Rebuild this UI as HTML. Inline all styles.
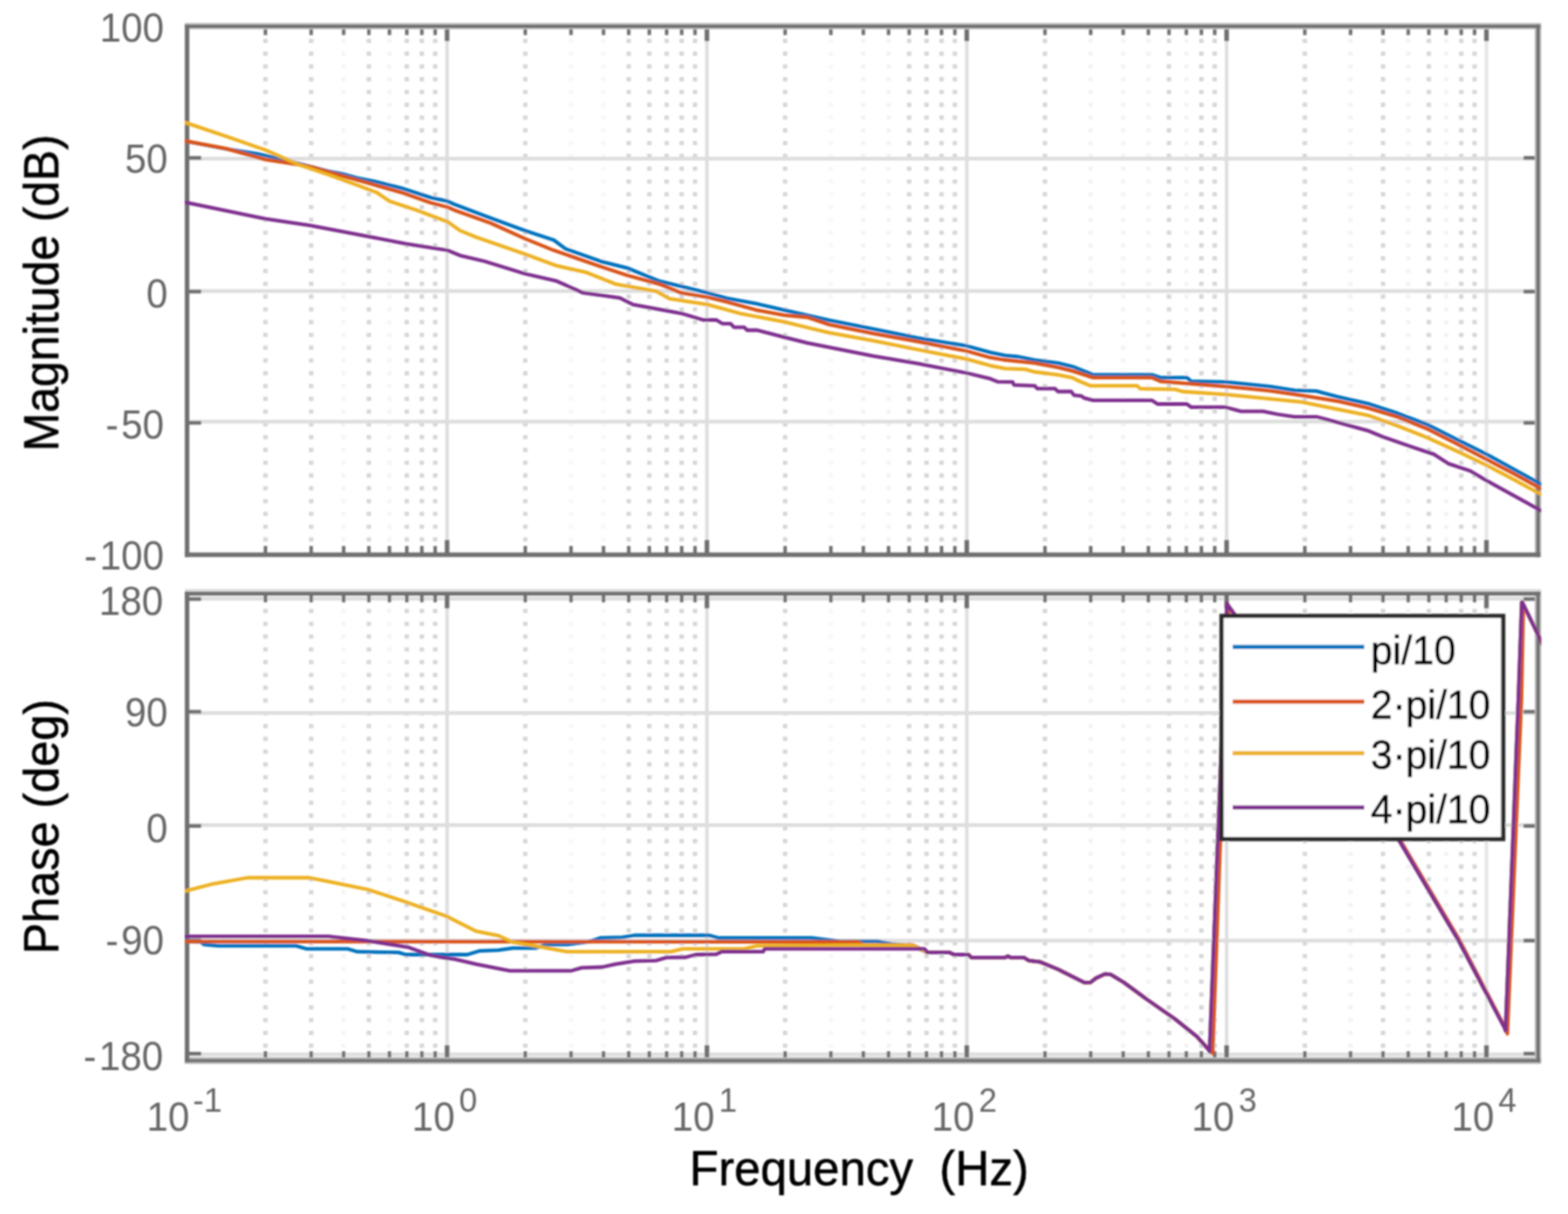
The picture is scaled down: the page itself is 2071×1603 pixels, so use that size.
<!DOCTYPE html>
<html lang="en"><head><meta charset="utf-8"><title>Bode plot</title>
<style>html,body{margin:0;padding:0;background:#fff;}body{width:2071px;height:1603px;overflow:hidden;}svg{display:block;}text{font-family:"Liberation Sans",sans-serif;}.tk{font-size:53px;fill:#666666;}.sup{font-size:45px;fill:#666666;}.ax{font-size:64px;fill:#000;stroke:#000;stroke-width:0.7px;}.ay{font-size:65px;fill:#000;stroke:#000;stroke-width:0.7px;}.lg{font-size:53px;fill:#000;stroke:#000;stroke-width:0.7px;}</style></head><body>
<svg width="2071" height="1603" viewBox="0 0 2071 1603" role="img" aria-label="Bode plot: magnitude and phase versus frequency">
<rect width="2071" height="1603" fill="#ffffff"/>
<defs>
<clipPath id="c0"><rect x="244.1" y="30" width="1791.4" height="706"/></clipPath>
<clipPath id="c1"><rect x="244.1" y="780" width="1791.4" height="624"/></clipPath>
<filter id="soft" x="0" y="0" width="2071" height="1603" filterUnits="userSpaceOnUse"><feGaussianBlur stdDeviation="1.05"/></filter>
</defs>
<g filter="url(#soft)">
<g id="panel0">
<line x1="350.6" y1="51.2" x2="350.6" y2="724.4" stroke="#d6d6d6" stroke-opacity="1" stroke-width="5.8" stroke-dasharray="5.6 11.28"/>
<line x1="411.0" y1="51.2" x2="411.0" y2="724.4" stroke="#d6d6d6" stroke-opacity="1" stroke-width="5.8" stroke-dasharray="5.6 11.28"/>
<line x1="453.9" y1="51.2" x2="453.9" y2="724.4" stroke="#d6d6d6" stroke-opacity="0.25" stroke-width="5.8" stroke-dasharray="5.6 11.28"/>
<line x1="487.2" y1="51.2" x2="487.2" y2="724.4" stroke="#d6d6d6" stroke-opacity="1" stroke-width="5.8" stroke-dasharray="5.6 11.28"/>
<line x1="514.4" y1="51.2" x2="514.4" y2="724.4" stroke="#d6d6d6" stroke-opacity="0.25" stroke-width="5.8" stroke-dasharray="5.6 11.28"/>
<line x1="537.3" y1="51.2" x2="537.3" y2="724.4" stroke="#d6d6d6" stroke-opacity="1" stroke-width="5.8" stroke-dasharray="5.6 11.28"/>
<line x1="557.2" y1="51.2" x2="557.2" y2="724.4" stroke="#d6d6d6" stroke-opacity="1" stroke-width="5.8" stroke-dasharray="5.6 11.28"/>
<line x1="574.8" y1="51.2" x2="574.8" y2="724.4" stroke="#d6d6d6" stroke-opacity="1" stroke-width="5.8" stroke-dasharray="5.6 11.28"/>
<line x1="693.8" y1="51.2" x2="693.8" y2="724.4" stroke="#d6d6d6" stroke-opacity="1" stroke-width="5.8" stroke-dasharray="5.6 11.28"/>
<line x1="754.2" y1="51.2" x2="754.2" y2="724.4" stroke="#d6d6d6" stroke-opacity="0.2" stroke-width="5.8" stroke-dasharray="5.6 11.28"/>
<line x1="797.1" y1="51.2" x2="797.1" y2="724.4" stroke="#d6d6d6" stroke-opacity="0.2" stroke-width="5.8" stroke-dasharray="5.6 11.28"/>
<line x1="830.4" y1="51.2" x2="830.4" y2="724.4" stroke="#d6d6d6" stroke-opacity="1" stroke-width="5.8" stroke-dasharray="5.6 11.28"/>
<line x1="857.6" y1="51.2" x2="857.6" y2="724.4" stroke="#d6d6d6" stroke-opacity="1" stroke-width="5.8" stroke-dasharray="5.6 11.28"/>
<line x1="880.5" y1="51.2" x2="880.5" y2="724.4" stroke="#d6d6d6" stroke-opacity="1" stroke-width="5.8" stroke-dasharray="5.6 11.28"/>
<line x1="900.4" y1="51.2" x2="900.4" y2="724.4" stroke="#d6d6d6" stroke-opacity="1" stroke-width="5.8" stroke-dasharray="5.6 11.28"/>
<line x1="918.0" y1="51.2" x2="918.0" y2="724.4" stroke="#d6d6d6" stroke-opacity="1" stroke-width="5.8" stroke-dasharray="5.6 11.28"/>
<line x1="1037.0" y1="51.2" x2="1037.0" y2="724.4" stroke="#d6d6d6" stroke-opacity="1" stroke-width="5.8" stroke-dasharray="5.6 11.28"/>
<line x1="1097.4" y1="51.2" x2="1097.4" y2="724.4" stroke="#d6d6d6" stroke-opacity="0.2" stroke-width="5.8" stroke-dasharray="5.6 11.28"/>
<line x1="1140.3" y1="51.2" x2="1140.3" y2="724.4" stroke="#d6d6d6" stroke-opacity="0.3" stroke-width="5.8" stroke-dasharray="5.6 11.28"/>
<line x1="1173.6" y1="51.2" x2="1173.6" y2="724.4" stroke="#d6d6d6" stroke-opacity="0.3" stroke-width="5.8" stroke-dasharray="5.6 11.28"/>
<line x1="1200.8" y1="51.2" x2="1200.8" y2="724.4" stroke="#d6d6d6" stroke-opacity="1" stroke-width="5.8" stroke-dasharray="5.6 11.28"/>
<line x1="1223.7" y1="51.2" x2="1223.7" y2="724.4" stroke="#d6d6d6" stroke-opacity="1" stroke-width="5.8" stroke-dasharray="5.6 11.28"/>
<line x1="1243.6" y1="51.2" x2="1243.6" y2="724.4" stroke="#d6d6d6" stroke-opacity="1" stroke-width="5.8" stroke-dasharray="5.6 11.28"/>
<line x1="1261.2" y1="51.2" x2="1261.2" y2="724.4" stroke="#d6d6d6" stroke-opacity="1" stroke-width="5.8" stroke-dasharray="5.6 11.28"/>
<line x1="1380.2" y1="51.2" x2="1380.2" y2="724.4" stroke="#d6d6d6" stroke-opacity="1" stroke-width="5.8" stroke-dasharray="5.6 11.28"/>
<line x1="1440.6" y1="51.2" x2="1440.6" y2="724.4" stroke="#d6d6d6" stroke-opacity="0.3" stroke-width="5.8" stroke-dasharray="5.6 11.28"/>
<line x1="1483.5" y1="51.2" x2="1483.5" y2="724.4" stroke="#d6d6d6" stroke-opacity="0.3" stroke-width="5.8" stroke-dasharray="5.6 11.28"/>
<line x1="1516.8" y1="51.2" x2="1516.8" y2="724.4" stroke="#d6d6d6" stroke-opacity="0.3" stroke-width="5.8" stroke-dasharray="5.6 11.28"/>
<line x1="1544.0" y1="51.2" x2="1544.0" y2="724.4" stroke="#d6d6d6" stroke-opacity="1" stroke-width="5.8" stroke-dasharray="5.6 11.28"/>
<line x1="1566.9" y1="51.2" x2="1566.9" y2="724.4" stroke="#d6d6d6" stroke-opacity="0.3" stroke-width="5.8" stroke-dasharray="5.6 11.28"/>
<line x1="1586.8" y1="51.2" x2="1586.8" y2="724.4" stroke="#d6d6d6" stroke-opacity="1" stroke-width="5.8" stroke-dasharray="5.6 11.28"/>
<line x1="1604.4" y1="51.2" x2="1604.4" y2="724.4" stroke="#d6d6d6" stroke-opacity="1" stroke-width="5.8" stroke-dasharray="5.6 11.28"/>
<line x1="1723.4" y1="51.2" x2="1723.4" y2="724.4" stroke="#d6d6d6" stroke-opacity="1" stroke-width="5.8" stroke-dasharray="5.6 11.28"/>
<line x1="1783.8" y1="51.2" x2="1783.8" y2="724.4" stroke="#d6d6d6" stroke-opacity="0.3" stroke-width="5.8" stroke-dasharray="5.6 11.28"/>
<line x1="1826.7" y1="51.2" x2="1826.7" y2="724.4" stroke="#d6d6d6" stroke-opacity="1" stroke-width="5.8" stroke-dasharray="5.6 11.28"/>
<line x1="1860.0" y1="51.2" x2="1860.0" y2="724.4" stroke="#d6d6d6" stroke-opacity="0.3" stroke-width="5.8" stroke-dasharray="5.6 11.28"/>
<line x1="1887.2" y1="51.2" x2="1887.2" y2="724.4" stroke="#d6d6d6" stroke-opacity="1" stroke-width="5.8" stroke-dasharray="5.6 11.28"/>
<line x1="1910.1" y1="51.2" x2="1910.1" y2="724.4" stroke="#d6d6d6" stroke-opacity="0.3" stroke-width="5.8" stroke-dasharray="5.6 11.28"/>
<line x1="1930.0" y1="51.2" x2="1930.0" y2="724.4" stroke="#d6d6d6" stroke-opacity="1" stroke-width="5.8" stroke-dasharray="5.6 11.28"/>
<line x1="1947.6" y1="51.2" x2="1947.6" y2="724.4" stroke="#d6d6d6" stroke-opacity="1" stroke-width="5.8" stroke-dasharray="5.6 11.28"/>
<line x1="590.5" y1="34.8" x2="590.5" y2="732.4" stroke="#dedede" stroke-width="4.6"/>
<line x1="933.7" y1="34.8" x2="933.7" y2="732.4" stroke="#dedede" stroke-width="4.6"/>
<line x1="1276.9" y1="34.8" x2="1276.9" y2="732.4" stroke="#dedede" stroke-width="4.6"/>
<line x1="1620.1" y1="34.8" x2="1620.1" y2="732.4" stroke="#dedede" stroke-width="4.6"/>
<line x1="1963.3" y1="34.8" x2="1963.3" y2="732.4" stroke="#e6e6e6" stroke-width="4.6"/>
<line x1="247.3" y1="209.6" x2="2031.5" y2="209.6" stroke="#dedede" stroke-width="5"/>
<line x1="247.3" y1="384.3" x2="2031.5" y2="384.3" stroke="#dedede" stroke-width="5"/>
<line x1="247.3" y1="556.8" x2="2031.5" y2="556.8" stroke="#dedede" stroke-width="5"/>
<line x1="350.6" y1="34.8" x2="350.6" y2="46.3" stroke="#6e6e6e" stroke-width="4.6"/>
<line x1="350.6" y1="732.4" x2="350.6" y2="720.9" stroke="#6e6e6e" stroke-width="4.6"/>
<line x1="411.0" y1="34.8" x2="411.0" y2="46.3" stroke="#6e6e6e" stroke-width="4.6"/>
<line x1="411.0" y1="732.4" x2="411.0" y2="720.9" stroke="#6e6e6e" stroke-width="4.6"/>
<line x1="453.9" y1="34.8" x2="453.9" y2="46.3" stroke="#6e6e6e" stroke-width="4.6"/>
<line x1="453.9" y1="732.4" x2="453.9" y2="720.9" stroke="#6e6e6e" stroke-width="4.6"/>
<line x1="487.2" y1="34.8" x2="487.2" y2="46.3" stroke="#6e6e6e" stroke-width="4.6"/>
<line x1="487.2" y1="732.4" x2="487.2" y2="720.9" stroke="#6e6e6e" stroke-width="4.6"/>
<line x1="514.4" y1="34.8" x2="514.4" y2="46.3" stroke="#6e6e6e" stroke-width="4.6"/>
<line x1="514.4" y1="732.4" x2="514.4" y2="720.9" stroke="#6e6e6e" stroke-width="4.6"/>
<line x1="537.3" y1="34.8" x2="537.3" y2="46.3" stroke="#6e6e6e" stroke-width="4.6"/>
<line x1="537.3" y1="732.4" x2="537.3" y2="720.9" stroke="#6e6e6e" stroke-width="4.6"/>
<line x1="557.2" y1="34.8" x2="557.2" y2="46.3" stroke="#6e6e6e" stroke-width="4.6"/>
<line x1="557.2" y1="732.4" x2="557.2" y2="720.9" stroke="#6e6e6e" stroke-width="4.6"/>
<line x1="574.8" y1="34.8" x2="574.8" y2="46.3" stroke="#6e6e6e" stroke-width="4.6"/>
<line x1="574.8" y1="732.4" x2="574.8" y2="720.9" stroke="#6e6e6e" stroke-width="4.6"/>
<line x1="590.5" y1="34.8" x2="590.5" y2="54.3" stroke="#6e6e6e" stroke-width="6"/>
<line x1="590.5" y1="732.4" x2="590.5" y2="712.9" stroke="#6e6e6e" stroke-width="6"/>
<line x1="693.8" y1="34.8" x2="693.8" y2="46.3" stroke="#6e6e6e" stroke-width="4.6"/>
<line x1="693.8" y1="732.4" x2="693.8" y2="720.9" stroke="#6e6e6e" stroke-width="4.6"/>
<line x1="754.2" y1="34.8" x2="754.2" y2="46.3" stroke="#6e6e6e" stroke-width="4.6"/>
<line x1="754.2" y1="732.4" x2="754.2" y2="720.9" stroke="#6e6e6e" stroke-width="4.6"/>
<line x1="797.1" y1="34.8" x2="797.1" y2="46.3" stroke="#6e6e6e" stroke-width="4.6"/>
<line x1="797.1" y1="732.4" x2="797.1" y2="720.9" stroke="#6e6e6e" stroke-width="4.6"/>
<line x1="830.4" y1="34.8" x2="830.4" y2="46.3" stroke="#6e6e6e" stroke-width="4.6"/>
<line x1="830.4" y1="732.4" x2="830.4" y2="720.9" stroke="#6e6e6e" stroke-width="4.6"/>
<line x1="857.6" y1="34.8" x2="857.6" y2="46.3" stroke="#6e6e6e" stroke-width="4.6"/>
<line x1="857.6" y1="732.4" x2="857.6" y2="720.9" stroke="#6e6e6e" stroke-width="4.6"/>
<line x1="880.5" y1="34.8" x2="880.5" y2="46.3" stroke="#6e6e6e" stroke-width="4.6"/>
<line x1="880.5" y1="732.4" x2="880.5" y2="720.9" stroke="#6e6e6e" stroke-width="4.6"/>
<line x1="900.4" y1="34.8" x2="900.4" y2="46.3" stroke="#6e6e6e" stroke-width="4.6"/>
<line x1="900.4" y1="732.4" x2="900.4" y2="720.9" stroke="#6e6e6e" stroke-width="4.6"/>
<line x1="918.0" y1="34.8" x2="918.0" y2="46.3" stroke="#6e6e6e" stroke-width="4.6"/>
<line x1="918.0" y1="732.4" x2="918.0" y2="720.9" stroke="#6e6e6e" stroke-width="4.6"/>
<line x1="933.7" y1="34.8" x2="933.7" y2="54.3" stroke="#6e6e6e" stroke-width="6"/>
<line x1="933.7" y1="732.4" x2="933.7" y2="712.9" stroke="#6e6e6e" stroke-width="6"/>
<line x1="1037.0" y1="34.8" x2="1037.0" y2="46.3" stroke="#6e6e6e" stroke-width="4.6"/>
<line x1="1037.0" y1="732.4" x2="1037.0" y2="720.9" stroke="#6e6e6e" stroke-width="4.6"/>
<line x1="1097.4" y1="34.8" x2="1097.4" y2="46.3" stroke="#6e6e6e" stroke-width="4.6"/>
<line x1="1097.4" y1="732.4" x2="1097.4" y2="720.9" stroke="#6e6e6e" stroke-width="4.6"/>
<line x1="1140.3" y1="34.8" x2="1140.3" y2="46.3" stroke="#6e6e6e" stroke-width="4.6"/>
<line x1="1140.3" y1="732.4" x2="1140.3" y2="720.9" stroke="#6e6e6e" stroke-width="4.6"/>
<line x1="1173.6" y1="34.8" x2="1173.6" y2="46.3" stroke="#6e6e6e" stroke-width="4.6"/>
<line x1="1173.6" y1="732.4" x2="1173.6" y2="720.9" stroke="#6e6e6e" stroke-width="4.6"/>
<line x1="1200.8" y1="34.8" x2="1200.8" y2="46.3" stroke="#6e6e6e" stroke-width="4.6"/>
<line x1="1200.8" y1="732.4" x2="1200.8" y2="720.9" stroke="#6e6e6e" stroke-width="4.6"/>
<line x1="1223.7" y1="34.8" x2="1223.7" y2="46.3" stroke="#6e6e6e" stroke-width="4.6"/>
<line x1="1223.7" y1="732.4" x2="1223.7" y2="720.9" stroke="#6e6e6e" stroke-width="4.6"/>
<line x1="1243.6" y1="34.8" x2="1243.6" y2="46.3" stroke="#6e6e6e" stroke-width="4.6"/>
<line x1="1243.6" y1="732.4" x2="1243.6" y2="720.9" stroke="#6e6e6e" stroke-width="4.6"/>
<line x1="1261.2" y1="34.8" x2="1261.2" y2="46.3" stroke="#6e6e6e" stroke-width="4.6"/>
<line x1="1261.2" y1="732.4" x2="1261.2" y2="720.9" stroke="#6e6e6e" stroke-width="4.6"/>
<line x1="1276.9" y1="34.8" x2="1276.9" y2="54.3" stroke="#6e6e6e" stroke-width="6"/>
<line x1="1276.9" y1="732.4" x2="1276.9" y2="712.9" stroke="#6e6e6e" stroke-width="6"/>
<line x1="1380.2" y1="34.8" x2="1380.2" y2="46.3" stroke="#6e6e6e" stroke-width="4.6"/>
<line x1="1380.2" y1="732.4" x2="1380.2" y2="720.9" stroke="#6e6e6e" stroke-width="4.6"/>
<line x1="1440.6" y1="34.8" x2="1440.6" y2="46.3" stroke="#6e6e6e" stroke-width="4.6"/>
<line x1="1440.6" y1="732.4" x2="1440.6" y2="720.9" stroke="#6e6e6e" stroke-width="4.6"/>
<line x1="1483.5" y1="34.8" x2="1483.5" y2="46.3" stroke="#6e6e6e" stroke-width="4.6"/>
<line x1="1483.5" y1="732.4" x2="1483.5" y2="720.9" stroke="#6e6e6e" stroke-width="4.6"/>
<line x1="1516.8" y1="34.8" x2="1516.8" y2="46.3" stroke="#6e6e6e" stroke-width="4.6"/>
<line x1="1516.8" y1="732.4" x2="1516.8" y2="720.9" stroke="#6e6e6e" stroke-width="4.6"/>
<line x1="1544.0" y1="34.8" x2="1544.0" y2="46.3" stroke="#6e6e6e" stroke-width="4.6"/>
<line x1="1544.0" y1="732.4" x2="1544.0" y2="720.9" stroke="#6e6e6e" stroke-width="4.6"/>
<line x1="1566.9" y1="34.8" x2="1566.9" y2="46.3" stroke="#6e6e6e" stroke-width="4.6"/>
<line x1="1566.9" y1="732.4" x2="1566.9" y2="720.9" stroke="#6e6e6e" stroke-width="4.6"/>
<line x1="1586.8" y1="34.8" x2="1586.8" y2="46.3" stroke="#6e6e6e" stroke-width="4.6"/>
<line x1="1586.8" y1="732.4" x2="1586.8" y2="720.9" stroke="#6e6e6e" stroke-width="4.6"/>
<line x1="1604.4" y1="34.8" x2="1604.4" y2="46.3" stroke="#6e6e6e" stroke-width="4.6"/>
<line x1="1604.4" y1="732.4" x2="1604.4" y2="720.9" stroke="#6e6e6e" stroke-width="4.6"/>
<line x1="1620.1" y1="34.8" x2="1620.1" y2="54.3" stroke="#6e6e6e" stroke-width="6"/>
<line x1="1620.1" y1="732.4" x2="1620.1" y2="712.9" stroke="#6e6e6e" stroke-width="6"/>
<line x1="1723.4" y1="34.8" x2="1723.4" y2="46.3" stroke="#6e6e6e" stroke-width="4.6"/>
<line x1="1723.4" y1="732.4" x2="1723.4" y2="720.9" stroke="#6e6e6e" stroke-width="4.6"/>
<line x1="1783.8" y1="34.8" x2="1783.8" y2="46.3" stroke="#6e6e6e" stroke-width="4.6"/>
<line x1="1783.8" y1="732.4" x2="1783.8" y2="720.9" stroke="#6e6e6e" stroke-width="4.6"/>
<line x1="1826.7" y1="34.8" x2="1826.7" y2="46.3" stroke="#6e6e6e" stroke-width="4.6"/>
<line x1="1826.7" y1="732.4" x2="1826.7" y2="720.9" stroke="#6e6e6e" stroke-width="4.6"/>
<line x1="1860.0" y1="34.8" x2="1860.0" y2="46.3" stroke="#6e6e6e" stroke-width="4.6"/>
<line x1="1860.0" y1="732.4" x2="1860.0" y2="720.9" stroke="#6e6e6e" stroke-width="4.6"/>
<line x1="1887.2" y1="34.8" x2="1887.2" y2="46.3" stroke="#6e6e6e" stroke-width="4.6"/>
<line x1="1887.2" y1="732.4" x2="1887.2" y2="720.9" stroke="#6e6e6e" stroke-width="4.6"/>
<line x1="1910.1" y1="34.8" x2="1910.1" y2="46.3" stroke="#6e6e6e" stroke-width="4.6"/>
<line x1="1910.1" y1="732.4" x2="1910.1" y2="720.9" stroke="#6e6e6e" stroke-width="4.6"/>
<line x1="1930.0" y1="34.8" x2="1930.0" y2="46.3" stroke="#6e6e6e" stroke-width="4.6"/>
<line x1="1930.0" y1="732.4" x2="1930.0" y2="720.9" stroke="#6e6e6e" stroke-width="4.6"/>
<line x1="1947.6" y1="34.8" x2="1947.6" y2="46.3" stroke="#6e6e6e" stroke-width="4.6"/>
<line x1="1947.6" y1="732.4" x2="1947.6" y2="720.9" stroke="#6e6e6e" stroke-width="4.6"/>
<line x1="1963.3" y1="34.8" x2="1963.3" y2="54.3" stroke="#6e6e6e" stroke-width="6"/>
<line x1="1963.3" y1="732.4" x2="1963.3" y2="712.9" stroke="#6e6e6e" stroke-width="6"/>
<line x1="247.3" y1="208.5" x2="265.7" y2="208.5" stroke="#6e6e6e" stroke-width="4.8"/>
<line x1="2031.5" y1="208.5" x2="2012.3" y2="208.5" stroke="#6e6e6e" stroke-width="4.8"/>
<line x1="247.3" y1="385.0" x2="265.7" y2="385.0" stroke="#6e6e6e" stroke-width="4.8"/>
<line x1="2031.5" y1="385.0" x2="2012.3" y2="385.0" stroke="#6e6e6e" stroke-width="4.8"/>
<line x1="247.3" y1="558.3" x2="265.7" y2="558.3" stroke="#6e6e6e" stroke-width="4.8"/>
<line x1="2031.5" y1="558.3" x2="2012.3" y2="558.3" stroke="#6e6e6e" stroke-width="4.8"/>
<rect x="244.1" y="30.2" width="1791.4" height="8.6" fill="#c4c4c4"/>
<rect x="2027.1" y="32.6" width="8.4" height="702.8" fill="#bcbcbc"/>
<line x1="244.1" y1="34.8" x2="2034.5" y2="34.8" stroke="#6f6f6f" stroke-width="4.4"/>
<line x1="244.1" y1="732.4" x2="2034.5" y2="732.4" stroke="#6f6f6f" stroke-width="6.0"/>
<line x1="247.1" y1="32.6" x2="247.1" y2="735.4" stroke="#6f6f6f" stroke-width="6"/>
<line x1="2031.5" y1="32.6" x2="2031.5" y2="735.4" stroke="#6f6f6f" stroke-width="4.4"/>
<g clip-path="url(#c0)">
<polyline points="240.0,185.3 298.0,196.5 340.0,203.0 360.0,207.5 394.7,216.0 433.4,226.0 452.0,229.5 472.0,235.0 497.0,240.0 530.0,248.3 568.8,260.9 591.0,265.7 600.0,269.7 648.4,288.0 693.4,304.5 731.5,317.0 747.0,328.6 793.4,345.1 828.2,353.8 870.8,371.2 934.6,386.7 960.0,393.8 1000.0,401.2 1035.4,409.3 1095.4,422.8 1153.4,434.4 1211.4,446.1 1276.6,456.7 1308.2,465.4 1327.5,469.3 1345.0,471.0 1366.4,475.4 1397.4,479.3 1416.7,484.1 1443.8,494.8 1521.2,494.8 1532.8,498.6 1567.6,498.6 1573.4,503.5 1618.8,504.4 1648.8,507.4 1677.8,510.3 1709.7,515.4 1738.7,516.4 1767.7,524.1 1806.4,532.8 1845.1,545.4 1883.8,559.9 1922.4,579.3 1963.1,599.6 1999.8,619.9 2040.0,641.8" fill="none" stroke="#0072bd" stroke-width="4.8" stroke-linejoin="round" stroke-linecap="butt"/>
<polyline points="240.0,185.3 298.0,196.1 350.3,210.6 394.7,217.4 414.0,221.2 452.8,232.5 485.6,241.5 530.1,254.1 568.8,267.7 591.0,273.5 600.0,277.4 648.4,294.8 693.4,315.1 731.5,330.6 793.4,351.9 828.2,363.5 870.8,375.1 899.8,386.7 934.6,392.5 960.0,398.7 998.7,409.3 1035.4,416.1 1066.4,419.0 1095.4,428.6 1153.4,440.3 1211.4,450.9 1276.6,463.5 1308.2,472.2 1325.0,475.0 1366.4,479.3 1397.4,485.1 1416.7,489.9 1443.8,498.6 1521.2,498.6 1532.8,503.5 1567.6,506.4 1618.8,510.3 1648.8,513.2 1677.8,516.1 1719.4,522.2 1767.7,529.9 1806.4,538.6 1845.1,550.3 1883.8,565.7 1922.4,585.1 1963.1,606.3 1999.8,625.7 2040.0,647.6" fill="none" stroke="#d95319" stroke-width="4.8" stroke-linejoin="round" stroke-linecap="butt"/>
<polyline points="240.0,160.3 298.0,179.7 350.3,198.0 394.7,217.4 433.4,230.5 472.0,244.4 497.3,254.1 514.7,265.7 549.5,277.3 591.0,292.8 607.5,304.4 629.0,313.2 640.0,317.0 693.4,335.4 735.4,350.9 774.0,359.6 812.8,375.1 866.9,384.7 884.3,394.4 934.6,402.1 977.2,413.8 998.7,418.0 1035.4,424.8 1066.4,432.5 1095.4,439.3 1153.4,449.9 1211.4,461.5 1276.6,474.1 1308.2,482.8 1327.5,486.7 1354.0,487.6 1366.0,491.0 1397.0,494.8 1416.0,498.6 1426.0,503.5 1440.0,509.3 1501.8,509.3 1506.0,513.2 1552.0,514.1 1562.0,517.0 1618.8,520.9 1659.5,524.8 1719.4,530.9 1767.7,540.6 1806.4,548.3 1845.1,561.9 1883.8,577.3 1922.4,594.7 1963.1,614.1 1999.8,633.4 2040.0,655.3" fill="none" stroke="#edb120" stroke-width="4.8" stroke-linejoin="round" stroke-linecap="butt"/>
<polyline points="240.0,266.1 350.3,288.9 409.2,297.6 485.6,312.1 536.0,321.8 591.0,330.5 607.5,337.3 640.0,345.0 693.4,361.5 735.4,371.2 770.2,386.7 818.6,393.4 836.0,402.1 899.8,413.8 928.8,422.5 946.2,422.5 954.0,427.3 965.0,427.3 969.4,432.1 983.0,432.1 986.8,436.0 1000.0,436.0 1035.4,445.1 1066.4,452.8 1095.4,458.6 1153.4,470.2 1211.4,479.9 1276.6,492.5 1308.2,500.2 1317.8,504.1 1337.4,504.4 1339.3,508.3 1366.4,509.3 1370.3,513.2 1393.5,513.2 1397.4,517.0 1414.8,517.0 1418.6,521.9 1428.3,522.9 1432.2,525.7 1443.8,528.6 1521.2,528.6 1528.9,533.5 1567.6,533.5 1573.4,537.7 1618.8,537.7 1639.0,543.1 1668.0,543.1 1687.5,547.0 1709.7,550.3 1738.7,550.3 1767.7,558.0 1806.4,568.6 1825.7,576.4 1864.4,589.9 1893.4,599.6 1912.8,612.1 1941.8,621.8 1963.1,634.4 1999.8,654.7 2040.0,676.6" fill="none" stroke="#7e2f8e" stroke-width="4.8" stroke-linejoin="round" stroke-linecap="butt"/>
</g>
<text class="tk" transform="translate(221.5,227.7) scale(0.96,1)" text-anchor="end">50</text>
<text class="tk" transform="translate(221.5,405.9) scale(0.96,1)" text-anchor="end">0</text>
<text class="tk" transform="translate(216.5,578.6) scale(0.96,1)" text-anchor="end" dx="0 3.6">-50</text>
<text class="tk" transform="translate(216.5,55.3) scale(0.96,1)" text-anchor="end">100</text>
<text class="tk" transform="translate(216.5,752.4) scale(0.96,1)" text-anchor="end" dx="0 3.6">-100</text>
</g>
<g id="panel1">
<line x1="350.6" y1="804.0" x2="350.6" y2="1391.6" stroke="#d6d6d6" stroke-opacity="1" stroke-width="5.8" stroke-dasharray="5.6 11.28"/>
<line x1="411.0" y1="804.0" x2="411.0" y2="1391.6" stroke="#d6d6d6" stroke-opacity="1" stroke-width="5.8" stroke-dasharray="5.6 11.28"/>
<line x1="453.9" y1="804.0" x2="453.9" y2="1391.6" stroke="#d6d6d6" stroke-opacity="0.25" stroke-width="5.8" stroke-dasharray="5.6 11.28"/>
<line x1="487.2" y1="804.0" x2="487.2" y2="1391.6" stroke="#d6d6d6" stroke-opacity="1" stroke-width="5.8" stroke-dasharray="5.6 11.28"/>
<line x1="514.4" y1="804.0" x2="514.4" y2="1391.6" stroke="#d6d6d6" stroke-opacity="0.25" stroke-width="5.8" stroke-dasharray="5.6 11.28"/>
<line x1="537.3" y1="804.0" x2="537.3" y2="1391.6" stroke="#d6d6d6" stroke-opacity="1" stroke-width="5.8" stroke-dasharray="5.6 11.28"/>
<line x1="557.2" y1="804.0" x2="557.2" y2="1391.6" stroke="#d6d6d6" stroke-opacity="1" stroke-width="5.8" stroke-dasharray="5.6 11.28"/>
<line x1="574.8" y1="804.0" x2="574.8" y2="1391.6" stroke="#d6d6d6" stroke-opacity="1" stroke-width="5.8" stroke-dasharray="5.6 11.28"/>
<line x1="693.8" y1="804.0" x2="693.8" y2="1391.6" stroke="#d6d6d6" stroke-opacity="1" stroke-width="5.8" stroke-dasharray="5.6 11.28"/>
<line x1="754.2" y1="804.0" x2="754.2" y2="1391.6" stroke="#d6d6d6" stroke-opacity="0.2" stroke-width="5.8" stroke-dasharray="5.6 11.28"/>
<line x1="797.1" y1="804.0" x2="797.1" y2="1391.6" stroke="#d6d6d6" stroke-opacity="0.2" stroke-width="5.8" stroke-dasharray="5.6 11.28"/>
<line x1="830.4" y1="804.0" x2="830.4" y2="1391.6" stroke="#d6d6d6" stroke-opacity="1" stroke-width="5.8" stroke-dasharray="5.6 11.28"/>
<line x1="857.6" y1="804.0" x2="857.6" y2="1391.6" stroke="#d6d6d6" stroke-opacity="1" stroke-width="5.8" stroke-dasharray="5.6 11.28"/>
<line x1="880.5" y1="804.0" x2="880.5" y2="1391.6" stroke="#d6d6d6" stroke-opacity="1" stroke-width="5.8" stroke-dasharray="5.6 11.28"/>
<line x1="900.4" y1="804.0" x2="900.4" y2="1391.6" stroke="#d6d6d6" stroke-opacity="1" stroke-width="5.8" stroke-dasharray="5.6 11.28"/>
<line x1="918.0" y1="804.0" x2="918.0" y2="1391.6" stroke="#d6d6d6" stroke-opacity="1" stroke-width="5.8" stroke-dasharray="5.6 11.28"/>
<line x1="1037.0" y1="804.0" x2="1037.0" y2="1391.6" stroke="#d6d6d6" stroke-opacity="1" stroke-width="5.8" stroke-dasharray="5.6 11.28"/>
<line x1="1097.4" y1="804.0" x2="1097.4" y2="1391.6" stroke="#d6d6d6" stroke-opacity="0.2" stroke-width="5.8" stroke-dasharray="5.6 11.28"/>
<line x1="1140.3" y1="804.0" x2="1140.3" y2="1391.6" stroke="#d6d6d6" stroke-opacity="0.3" stroke-width="5.8" stroke-dasharray="5.6 11.28"/>
<line x1="1173.6" y1="804.0" x2="1173.6" y2="1391.6" stroke="#d6d6d6" stroke-opacity="0.3" stroke-width="5.8" stroke-dasharray="5.6 11.28"/>
<line x1="1200.8" y1="804.0" x2="1200.8" y2="1391.6" stroke="#d6d6d6" stroke-opacity="1" stroke-width="5.8" stroke-dasharray="5.6 11.28"/>
<line x1="1223.7" y1="804.0" x2="1223.7" y2="1391.6" stroke="#d6d6d6" stroke-opacity="1" stroke-width="5.8" stroke-dasharray="5.6 11.28"/>
<line x1="1243.6" y1="804.0" x2="1243.6" y2="1391.6" stroke="#d6d6d6" stroke-opacity="1" stroke-width="5.8" stroke-dasharray="5.6 11.28"/>
<line x1="1261.2" y1="804.0" x2="1261.2" y2="1391.6" stroke="#d6d6d6" stroke-opacity="1" stroke-width="5.8" stroke-dasharray="5.6 11.28"/>
<line x1="1380.2" y1="804.0" x2="1380.2" y2="1391.6" stroke="#d6d6d6" stroke-opacity="1" stroke-width="5.8" stroke-dasharray="5.6 11.28"/>
<line x1="1440.6" y1="804.0" x2="1440.6" y2="1391.6" stroke="#d6d6d6" stroke-opacity="0.3" stroke-width="5.8" stroke-dasharray="5.6 11.28"/>
<line x1="1483.5" y1="804.0" x2="1483.5" y2="1391.6" stroke="#d6d6d6" stroke-opacity="0.3" stroke-width="5.8" stroke-dasharray="5.6 11.28"/>
<line x1="1516.8" y1="804.0" x2="1516.8" y2="1391.6" stroke="#d6d6d6" stroke-opacity="0.3" stroke-width="5.8" stroke-dasharray="5.6 11.28"/>
<line x1="1544.0" y1="804.0" x2="1544.0" y2="1391.6" stroke="#d6d6d6" stroke-opacity="1" stroke-width="5.8" stroke-dasharray="5.6 11.28"/>
<line x1="1566.9" y1="804.0" x2="1566.9" y2="1391.6" stroke="#d6d6d6" stroke-opacity="0.3" stroke-width="5.8" stroke-dasharray="5.6 11.28"/>
<line x1="1586.8" y1="804.0" x2="1586.8" y2="1391.6" stroke="#d6d6d6" stroke-opacity="1" stroke-width="5.8" stroke-dasharray="5.6 11.28"/>
<line x1="1604.4" y1="804.0" x2="1604.4" y2="1391.6" stroke="#d6d6d6" stroke-opacity="1" stroke-width="5.8" stroke-dasharray="5.6 11.28"/>
<line x1="1723.4" y1="804.0" x2="1723.4" y2="1391.6" stroke="#d6d6d6" stroke-opacity="1" stroke-width="5.8" stroke-dasharray="5.6 11.28"/>
<line x1="1783.8" y1="804.0" x2="1783.8" y2="1391.6" stroke="#d6d6d6" stroke-opacity="0.3" stroke-width="5.8" stroke-dasharray="5.6 11.28"/>
<line x1="1826.7" y1="804.0" x2="1826.7" y2="1391.6" stroke="#d6d6d6" stroke-opacity="1" stroke-width="5.8" stroke-dasharray="5.6 11.28"/>
<line x1="1860.0" y1="804.0" x2="1860.0" y2="1391.6" stroke="#d6d6d6" stroke-opacity="0.3" stroke-width="5.8" stroke-dasharray="5.6 11.28"/>
<line x1="1887.2" y1="804.0" x2="1887.2" y2="1391.6" stroke="#d6d6d6" stroke-opacity="1" stroke-width="5.8" stroke-dasharray="5.6 11.28"/>
<line x1="1910.1" y1="804.0" x2="1910.1" y2="1391.6" stroke="#d6d6d6" stroke-opacity="0.3" stroke-width="5.8" stroke-dasharray="5.6 11.28"/>
<line x1="1930.0" y1="804.0" x2="1930.0" y2="1391.6" stroke="#d6d6d6" stroke-opacity="1" stroke-width="5.8" stroke-dasharray="5.6 11.28"/>
<line x1="1947.6" y1="804.0" x2="1947.6" y2="1391.6" stroke="#d6d6d6" stroke-opacity="1" stroke-width="5.8" stroke-dasharray="5.6 11.28"/>
<line x1="590.5" y1="783.8" x2="590.5" y2="1399.6" stroke="#dedede" stroke-width="4.6"/>
<line x1="933.7" y1="783.8" x2="933.7" y2="1399.6" stroke="#dedede" stroke-width="4.6"/>
<line x1="1276.9" y1="783.8" x2="1276.9" y2="1399.6" stroke="#dedede" stroke-width="4.6"/>
<line x1="1620.1" y1="783.8" x2="1620.1" y2="1399.6" stroke="#dedede" stroke-width="4.6"/>
<line x1="1963.3" y1="783.8" x2="1963.3" y2="1399.6" stroke="#e6e6e6" stroke-width="4.6"/>
<line x1="247.3" y1="790.5" x2="2031.5" y2="790.5" stroke="#dedede" stroke-width="5"/>
<line x1="247.3" y1="941.6" x2="2031.5" y2="941.6" stroke="#dedede" stroke-width="5"/>
<line x1="247.3" y1="1089.6" x2="2031.5" y2="1089.6" stroke="#dedede" stroke-width="5"/>
<line x1="247.3" y1="1242.0" x2="2031.5" y2="1242.0" stroke="#dedede" stroke-width="5"/>
<line x1="247.3" y1="1392.2" x2="2031.5" y2="1392.2" stroke="#dedede" stroke-width="5"/>
<line x1="350.6" y1="783.8" x2="350.6" y2="795.3" stroke="#6e6e6e" stroke-width="4.6"/>
<line x1="350.6" y1="1399.6" x2="350.6" y2="1388.1" stroke="#6e6e6e" stroke-width="4.6"/>
<line x1="411.0" y1="783.8" x2="411.0" y2="795.3" stroke="#6e6e6e" stroke-width="4.6"/>
<line x1="411.0" y1="1399.6" x2="411.0" y2="1388.1" stroke="#6e6e6e" stroke-width="4.6"/>
<line x1="453.9" y1="783.8" x2="453.9" y2="795.3" stroke="#6e6e6e" stroke-width="4.6"/>
<line x1="453.9" y1="1399.6" x2="453.9" y2="1388.1" stroke="#6e6e6e" stroke-width="4.6"/>
<line x1="487.2" y1="783.8" x2="487.2" y2="795.3" stroke="#6e6e6e" stroke-width="4.6"/>
<line x1="487.2" y1="1399.6" x2="487.2" y2="1388.1" stroke="#6e6e6e" stroke-width="4.6"/>
<line x1="514.4" y1="783.8" x2="514.4" y2="795.3" stroke="#6e6e6e" stroke-width="4.6"/>
<line x1="514.4" y1="1399.6" x2="514.4" y2="1388.1" stroke="#6e6e6e" stroke-width="4.6"/>
<line x1="537.3" y1="783.8" x2="537.3" y2="795.3" stroke="#6e6e6e" stroke-width="4.6"/>
<line x1="537.3" y1="1399.6" x2="537.3" y2="1388.1" stroke="#6e6e6e" stroke-width="4.6"/>
<line x1="557.2" y1="783.8" x2="557.2" y2="795.3" stroke="#6e6e6e" stroke-width="4.6"/>
<line x1="557.2" y1="1399.6" x2="557.2" y2="1388.1" stroke="#6e6e6e" stroke-width="4.6"/>
<line x1="574.8" y1="783.8" x2="574.8" y2="795.3" stroke="#6e6e6e" stroke-width="4.6"/>
<line x1="574.8" y1="1399.6" x2="574.8" y2="1388.1" stroke="#6e6e6e" stroke-width="4.6"/>
<line x1="590.5" y1="783.8" x2="590.5" y2="803.3" stroke="#6e6e6e" stroke-width="6"/>
<line x1="590.5" y1="1399.6" x2="590.5" y2="1380.1" stroke="#6e6e6e" stroke-width="6"/>
<line x1="693.8" y1="783.8" x2="693.8" y2="795.3" stroke="#6e6e6e" stroke-width="4.6"/>
<line x1="693.8" y1="1399.6" x2="693.8" y2="1388.1" stroke="#6e6e6e" stroke-width="4.6"/>
<line x1="754.2" y1="783.8" x2="754.2" y2="795.3" stroke="#6e6e6e" stroke-width="4.6"/>
<line x1="754.2" y1="1399.6" x2="754.2" y2="1388.1" stroke="#6e6e6e" stroke-width="4.6"/>
<line x1="797.1" y1="783.8" x2="797.1" y2="795.3" stroke="#6e6e6e" stroke-width="4.6"/>
<line x1="797.1" y1="1399.6" x2="797.1" y2="1388.1" stroke="#6e6e6e" stroke-width="4.6"/>
<line x1="830.4" y1="783.8" x2="830.4" y2="795.3" stroke="#6e6e6e" stroke-width="4.6"/>
<line x1="830.4" y1="1399.6" x2="830.4" y2="1388.1" stroke="#6e6e6e" stroke-width="4.6"/>
<line x1="857.6" y1="783.8" x2="857.6" y2="795.3" stroke="#6e6e6e" stroke-width="4.6"/>
<line x1="857.6" y1="1399.6" x2="857.6" y2="1388.1" stroke="#6e6e6e" stroke-width="4.6"/>
<line x1="880.5" y1="783.8" x2="880.5" y2="795.3" stroke="#6e6e6e" stroke-width="4.6"/>
<line x1="880.5" y1="1399.6" x2="880.5" y2="1388.1" stroke="#6e6e6e" stroke-width="4.6"/>
<line x1="900.4" y1="783.8" x2="900.4" y2="795.3" stroke="#6e6e6e" stroke-width="4.6"/>
<line x1="900.4" y1="1399.6" x2="900.4" y2="1388.1" stroke="#6e6e6e" stroke-width="4.6"/>
<line x1="918.0" y1="783.8" x2="918.0" y2="795.3" stroke="#6e6e6e" stroke-width="4.6"/>
<line x1="918.0" y1="1399.6" x2="918.0" y2="1388.1" stroke="#6e6e6e" stroke-width="4.6"/>
<line x1="933.7" y1="783.8" x2="933.7" y2="803.3" stroke="#6e6e6e" stroke-width="6"/>
<line x1="933.7" y1="1399.6" x2="933.7" y2="1380.1" stroke="#6e6e6e" stroke-width="6"/>
<line x1="1037.0" y1="783.8" x2="1037.0" y2="795.3" stroke="#6e6e6e" stroke-width="4.6"/>
<line x1="1037.0" y1="1399.6" x2="1037.0" y2="1388.1" stroke="#6e6e6e" stroke-width="4.6"/>
<line x1="1097.4" y1="783.8" x2="1097.4" y2="795.3" stroke="#6e6e6e" stroke-width="4.6"/>
<line x1="1097.4" y1="1399.6" x2="1097.4" y2="1388.1" stroke="#6e6e6e" stroke-width="4.6"/>
<line x1="1140.3" y1="783.8" x2="1140.3" y2="795.3" stroke="#6e6e6e" stroke-width="4.6"/>
<line x1="1140.3" y1="1399.6" x2="1140.3" y2="1388.1" stroke="#6e6e6e" stroke-width="4.6"/>
<line x1="1173.6" y1="783.8" x2="1173.6" y2="795.3" stroke="#6e6e6e" stroke-width="4.6"/>
<line x1="1173.6" y1="1399.6" x2="1173.6" y2="1388.1" stroke="#6e6e6e" stroke-width="4.6"/>
<line x1="1200.8" y1="783.8" x2="1200.8" y2="795.3" stroke="#6e6e6e" stroke-width="4.6"/>
<line x1="1200.8" y1="1399.6" x2="1200.8" y2="1388.1" stroke="#6e6e6e" stroke-width="4.6"/>
<line x1="1223.7" y1="783.8" x2="1223.7" y2="795.3" stroke="#6e6e6e" stroke-width="4.6"/>
<line x1="1223.7" y1="1399.6" x2="1223.7" y2="1388.1" stroke="#6e6e6e" stroke-width="4.6"/>
<line x1="1243.6" y1="783.8" x2="1243.6" y2="795.3" stroke="#6e6e6e" stroke-width="4.6"/>
<line x1="1243.6" y1="1399.6" x2="1243.6" y2="1388.1" stroke="#6e6e6e" stroke-width="4.6"/>
<line x1="1261.2" y1="783.8" x2="1261.2" y2="795.3" stroke="#6e6e6e" stroke-width="4.6"/>
<line x1="1261.2" y1="1399.6" x2="1261.2" y2="1388.1" stroke="#6e6e6e" stroke-width="4.6"/>
<line x1="1276.9" y1="783.8" x2="1276.9" y2="803.3" stroke="#6e6e6e" stroke-width="6"/>
<line x1="1276.9" y1="1399.6" x2="1276.9" y2="1380.1" stroke="#6e6e6e" stroke-width="6"/>
<line x1="1380.2" y1="783.8" x2="1380.2" y2="795.3" stroke="#6e6e6e" stroke-width="4.6"/>
<line x1="1380.2" y1="1399.6" x2="1380.2" y2="1388.1" stroke="#6e6e6e" stroke-width="4.6"/>
<line x1="1440.6" y1="783.8" x2="1440.6" y2="795.3" stroke="#6e6e6e" stroke-width="4.6"/>
<line x1="1440.6" y1="1399.6" x2="1440.6" y2="1388.1" stroke="#6e6e6e" stroke-width="4.6"/>
<line x1="1483.5" y1="783.8" x2="1483.5" y2="795.3" stroke="#6e6e6e" stroke-width="4.6"/>
<line x1="1483.5" y1="1399.6" x2="1483.5" y2="1388.1" stroke="#6e6e6e" stroke-width="4.6"/>
<line x1="1516.8" y1="783.8" x2="1516.8" y2="795.3" stroke="#6e6e6e" stroke-width="4.6"/>
<line x1="1516.8" y1="1399.6" x2="1516.8" y2="1388.1" stroke="#6e6e6e" stroke-width="4.6"/>
<line x1="1544.0" y1="783.8" x2="1544.0" y2="795.3" stroke="#6e6e6e" stroke-width="4.6"/>
<line x1="1544.0" y1="1399.6" x2="1544.0" y2="1388.1" stroke="#6e6e6e" stroke-width="4.6"/>
<line x1="1566.9" y1="783.8" x2="1566.9" y2="795.3" stroke="#6e6e6e" stroke-width="4.6"/>
<line x1="1566.9" y1="1399.6" x2="1566.9" y2="1388.1" stroke="#6e6e6e" stroke-width="4.6"/>
<line x1="1586.8" y1="783.8" x2="1586.8" y2="795.3" stroke="#6e6e6e" stroke-width="4.6"/>
<line x1="1586.8" y1="1399.6" x2="1586.8" y2="1388.1" stroke="#6e6e6e" stroke-width="4.6"/>
<line x1="1604.4" y1="783.8" x2="1604.4" y2="795.3" stroke="#6e6e6e" stroke-width="4.6"/>
<line x1="1604.4" y1="1399.6" x2="1604.4" y2="1388.1" stroke="#6e6e6e" stroke-width="4.6"/>
<line x1="1620.1" y1="783.8" x2="1620.1" y2="803.3" stroke="#6e6e6e" stroke-width="6"/>
<line x1="1620.1" y1="1399.6" x2="1620.1" y2="1380.1" stroke="#6e6e6e" stroke-width="6"/>
<line x1="1723.4" y1="783.8" x2="1723.4" y2="795.3" stroke="#6e6e6e" stroke-width="4.6"/>
<line x1="1723.4" y1="1399.6" x2="1723.4" y2="1388.1" stroke="#6e6e6e" stroke-width="4.6"/>
<line x1="1783.8" y1="783.8" x2="1783.8" y2="795.3" stroke="#6e6e6e" stroke-width="4.6"/>
<line x1="1783.8" y1="1399.6" x2="1783.8" y2="1388.1" stroke="#6e6e6e" stroke-width="4.6"/>
<line x1="1826.7" y1="783.8" x2="1826.7" y2="795.3" stroke="#6e6e6e" stroke-width="4.6"/>
<line x1="1826.7" y1="1399.6" x2="1826.7" y2="1388.1" stroke="#6e6e6e" stroke-width="4.6"/>
<line x1="1860.0" y1="783.8" x2="1860.0" y2="795.3" stroke="#6e6e6e" stroke-width="4.6"/>
<line x1="1860.0" y1="1399.6" x2="1860.0" y2="1388.1" stroke="#6e6e6e" stroke-width="4.6"/>
<line x1="1887.2" y1="783.8" x2="1887.2" y2="795.3" stroke="#6e6e6e" stroke-width="4.6"/>
<line x1="1887.2" y1="1399.6" x2="1887.2" y2="1388.1" stroke="#6e6e6e" stroke-width="4.6"/>
<line x1="1910.1" y1="783.8" x2="1910.1" y2="795.3" stroke="#6e6e6e" stroke-width="4.6"/>
<line x1="1910.1" y1="1399.6" x2="1910.1" y2="1388.1" stroke="#6e6e6e" stroke-width="4.6"/>
<line x1="1930.0" y1="783.8" x2="1930.0" y2="795.3" stroke="#6e6e6e" stroke-width="4.6"/>
<line x1="1930.0" y1="1399.6" x2="1930.0" y2="1388.1" stroke="#6e6e6e" stroke-width="4.6"/>
<line x1="1947.6" y1="783.8" x2="1947.6" y2="795.3" stroke="#6e6e6e" stroke-width="4.6"/>
<line x1="1947.6" y1="1399.6" x2="1947.6" y2="1388.1" stroke="#6e6e6e" stroke-width="4.6"/>
<line x1="1963.3" y1="783.8" x2="1963.3" y2="803.3" stroke="#6e6e6e" stroke-width="6"/>
<line x1="1963.3" y1="1399.6" x2="1963.3" y2="1380.1" stroke="#6e6e6e" stroke-width="6"/>
<line x1="247.3" y1="791.0" x2="265.7" y2="791.0" stroke="#6e6e6e" stroke-width="4.8"/>
<line x1="2031.5" y1="791.0" x2="2012.3" y2="791.0" stroke="#6e6e6e" stroke-width="4.8"/>
<line x1="247.3" y1="939.8" x2="265.7" y2="939.8" stroke="#6e6e6e" stroke-width="4.8"/>
<line x1="2031.5" y1="939.8" x2="2012.3" y2="939.8" stroke="#6e6e6e" stroke-width="4.8"/>
<line x1="247.3" y1="1090.6" x2="265.7" y2="1090.6" stroke="#6e6e6e" stroke-width="4.8"/>
<line x1="2031.5" y1="1090.6" x2="2012.3" y2="1090.6" stroke="#6e6e6e" stroke-width="4.8"/>
<line x1="247.3" y1="1242.0" x2="265.7" y2="1242.0" stroke="#6e6e6e" stroke-width="4.8"/>
<line x1="2031.5" y1="1242.0" x2="2012.3" y2="1242.0" stroke="#6e6e6e" stroke-width="4.8"/>
<line x1="247.3" y1="1391.3" x2="265.7" y2="1391.3" stroke="#6e6e6e" stroke-width="4.8"/>
<line x1="2031.5" y1="1391.3" x2="2012.3" y2="1391.3" stroke="#6e6e6e" stroke-width="4.8"/>
<rect x="244.1" y="777.8" width="1791.4" height="5.0" fill="#dcdcdc"/>
<rect x="244.1" y="1396.0" width="1791.4" height="8.8" fill="#b8b8b8"/>
<rect x="2027.1" y="781.2" width="8.4" height="621.4" fill="#bcbcbc"/>
<line x1="244.1" y1="783.8" x2="2034.5" y2="783.8" stroke="#6f6f6f" stroke-width="5.2"/>
<line x1="244.1" y1="1400.5" x2="2034.5" y2="1400.5" stroke="#6f6f6f" stroke-width="4.2"/>
<line x1="247.1" y1="781.2" x2="247.1" y2="1402.6" stroke="#6f6f6f" stroke-width="6"/>
<line x1="2031.5" y1="781.2" x2="2031.5" y2="1402.6" stroke="#6f6f6f" stroke-width="4.4"/>
<g clip-path="url(#c1)">
<polyline points="240.0,1242.8 265.0,1243.5 269.0,1247.0 288.0,1248.9 391.0,1248.9 404.4,1252.8 458.6,1252.8 472.1,1256.7 526.3,1257.6 536.0,1260.5 617.2,1260.5 632.9,1255.7 658.0,1254.7 677.4,1251.8 708.0,1251.8 720.0,1247.4 750.0,1247.0 780.0,1243.0 793.4,1238.3 822.0,1237.7 838.0,1235.0 936.6,1235.0 948.2,1238.3 1072.0,1238.3 1109.0,1243.1 1159.0,1243.1 1180.0,1247.0 1205.0,1249.0 1225.0,1257.6 1254.0,1257.6 1260.0,1260.5 1279.0,1260.5 1283.0,1264.4 1327.5,1264.4 1331.0,1262.5 1335.0,1264.4 1352.6,1264.4 1358.7,1268.3 1374.0,1270.2 1397.4,1279.9 1416.7,1289.6 1432.2,1297.3 1440.0,1297.3 1447.7,1291.5 1459.3,1286.1 1467.0,1286.7 1484.4,1297.3 1513.4,1318.6 1552.1,1345.6 1581.1,1368.9 1596.6,1386.3 1597.6,1388.5 1620.6,796.5 1621.2,798.5 1849.0,1111.6 1926.3,1241.8 1987.3,1357.3 1988.5,1361.0 2005.4,925.0 2010.0,795.0 2011.0,796.0 2040.0,855.9" fill="none" stroke="#0072bd" stroke-width="4.8" stroke-linejoin="round" stroke-linecap="butt"/>
<polyline points="240.0,1243.1 1134.0,1243.6 1140.0,1248.0 1205.6,1248.0 1225.0,1257.6 1254.0,1257.6 1260.0,1260.5 1279.0,1260.5 1283.0,1264.4 1327.5,1264.4 1331.0,1262.5 1335.0,1264.4 1352.6,1264.4 1358.7,1268.3 1374.0,1270.2 1397.4,1279.9 1416.7,1289.6 1432.2,1297.3 1440.0,1297.3 1447.7,1291.5 1459.3,1286.1 1467.0,1286.7 1484.4,1297.3 1513.4,1318.6 1552.1,1345.6 1581.1,1368.9 1596.6,1386.3 1601.6,1390.9 1623.0,800.5 1621.2,798.5 1850.8,1111.6 1927.9,1241.8 1988.1,1357.3 1990.9,1365.0 2009.4,925.0 2012.0,799.0 2011.0,796.0 2040.0,855.9" fill="none" stroke="#d95319" stroke-width="4.8" stroke-linejoin="round" stroke-linecap="butt"/>
<polyline points="240.0,1177.9 278.7,1167.7 327.0,1159.0 408.3,1159.0 433.4,1163.8 485.6,1174.5 530.1,1189.0 591.0,1210.3 600.0,1215.1 629.0,1229.6 658.0,1235.4 677.4,1244.1 706.4,1248.9 748.9,1256.7 886.3,1256.7 901.7,1252.8 983.0,1252.8 1000.0,1248.9 1134.0,1248.0 1205.0,1248.5 1225.0,1257.6 1254.0,1257.6 1260.0,1260.5 1279.0,1260.5 1283.0,1264.4 1327.5,1264.4 1331.0,1262.5 1335.0,1264.4 1352.6,1264.4 1358.7,1268.3 1374.0,1270.2 1397.4,1279.9 1416.7,1289.6 1432.2,1297.3 1440.0,1297.3 1447.7,1291.5 1459.3,1286.1 1467.0,1286.7 1484.4,1297.3 1513.4,1318.6 1552.1,1345.6 1581.1,1368.9 1596.6,1386.3 1597.6,1388.5 1620.6,796.5 1621.2,798.5 1849.0,1111.6 1926.3,1241.8 1987.3,1357.3 1988.5,1361.0 2005.4,925.0 2010.0,795.0 2011.0,796.0 2040.0,855.9" fill="none" stroke="#edb120" stroke-width="4.8" stroke-linejoin="round" stroke-linecap="butt"/>
<polyline points="240.0,1236.4 433.4,1236.4 485.6,1242.2 539.8,1250.9 568.8,1261.5 591.0,1265.4 600.0,1266.3 629.0,1273.1 658.0,1278.9 673.5,1281.8 754.7,1281.8 768.3,1277.9 795.4,1277.0 812.8,1273.1 838.0,1269.2 866.9,1268.3 880.3,1264.4 905.6,1264.0 919.1,1260.5 946.0,1260.0 954.0,1256.3 1008.0,1256.7 1010.0,1252.8 1221.0,1252.8 1225.0,1257.6 1254.0,1257.6 1260.0,1260.5 1279.0,1260.5 1283.0,1264.4 1327.5,1264.4 1331.0,1262.5 1335.0,1264.4 1352.6,1264.4 1358.7,1268.3 1374.0,1270.2 1397.4,1279.9 1416.7,1289.6 1432.2,1297.3 1440.0,1297.3 1447.7,1291.5 1459.3,1286.1 1467.0,1286.7 1484.4,1297.3 1513.4,1318.6 1552.1,1345.6 1581.1,1368.9 1596.6,1386.3 1597.6,1388.5 1620.6,796.5 1621.2,798.5 1849.0,1111.6 1926.3,1241.8 1987.3,1357.3 1988.5,1361.0 2005.4,925.0 2010.0,795.0 2011.0,796.0 2040.0,855.9" fill="none" stroke="#7e2f8e" stroke-width="4.8" stroke-linejoin="round" stroke-linecap="butt"/>
</g>
<text class="tk" transform="translate(215.5,811.8) scale(0.96,1)" text-anchor="end">180</text>
<text class="tk" transform="translate(221.5,959.3) scale(0.96,1)" text-anchor="end">90</text>
<text class="tk" transform="translate(221.5,1112.1) scale(0.96,1)" text-anchor="end">0</text>
<text class="tk" transform="translate(216.5,1259.8) scale(0.96,1)" text-anchor="end" dx="0 3.6">-90</text>
<text class="tk" transform="translate(215.5,1413.1) scale(0.96,1)" text-anchor="end" dx="0 3.6">-180</text>
</g>
<text class="tk" transform="translate(193.8,1493.0) scale(0.96,1)" text-anchor="start">10<tspan class="sup" x="63.5" dy="-25">-1</tspan></text>
<text class="tk" transform="translate(544.1,1493.0) scale(0.96,1)" text-anchor="start">10<tspan class="sup" x="64.8" dy="-25">0</tspan></text>
<text class="tk" transform="translate(887.3,1493.0) scale(0.96,1)" text-anchor="start">10<tspan class="sup" x="64.8" dy="-25">1</tspan></text>
<text class="tk" transform="translate(1230.5,1493.0) scale(0.96,1)" text-anchor="start">10<tspan class="sup" x="64.8" dy="-25">2</tspan></text>
<text class="tk" transform="translate(1573.7,1493.0) scale(0.96,1)" text-anchor="start">10<tspan class="sup" x="64.8" dy="-25">3</tspan></text>
<text class="tk" transform="translate(1916.9,1493.0) scale(0.96,1)" text-anchor="start">10<tspan class="sup" x="64.8" dy="-25">4</tspan></text>
<text class="ax" transform="translate(1134.8,1565.2) scale(0.977,1)" text-anchor="middle" xml:space="preserve">Frequency  (Hz)</text>
<text class="ay" transform="translate(77.0,386.8) rotate(-90) scale(0.9412,1)" text-anchor="middle">Magnitude (dB)</text>
<text class="ay" transform="translate(77.0,1091.5) rotate(-90) scale(0.9519,1)" text-anchor="middle">Phase (deg)</text>
<g id="legend">
<rect x="1613.4" y="813.3" width="372" height="294.6" fill="#ffffff" stroke="#2b2b2b" stroke-width="5.6"/>
<line x1="1628" y1="854.2" x2="1802" y2="854.2" stroke="#0072bd" stroke-width="5.6"/>
<text class="lg" transform="translate(1810.6,876.6) scale(0.975,1)" text-anchor="start">pi/10</text>
<line x1="1628" y1="926.5" x2="1802" y2="926.5" stroke="#d95319" stroke-width="5.6"/>
<text class="lg" transform="translate(1810.6,948.8) scale(0.975,1)" text-anchor="start">2·pi/10</text>
<line x1="1628" y1="994.5" x2="1802" y2="994.5" stroke="#edb120" stroke-width="5.6"/>
<text class="lg" transform="translate(1810.6,1015.0) scale(0.975,1)" text-anchor="start">3·pi/10</text>
<line x1="1628" y1="1066.2" x2="1802" y2="1066.2" stroke="#7e2f8e" stroke-width="5.6"/>
<text class="lg" transform="translate(1810.6,1086.8) scale(0.975,1)" text-anchor="start">4·pi/10</text>
</g>
</g>
</svg></body></html>
